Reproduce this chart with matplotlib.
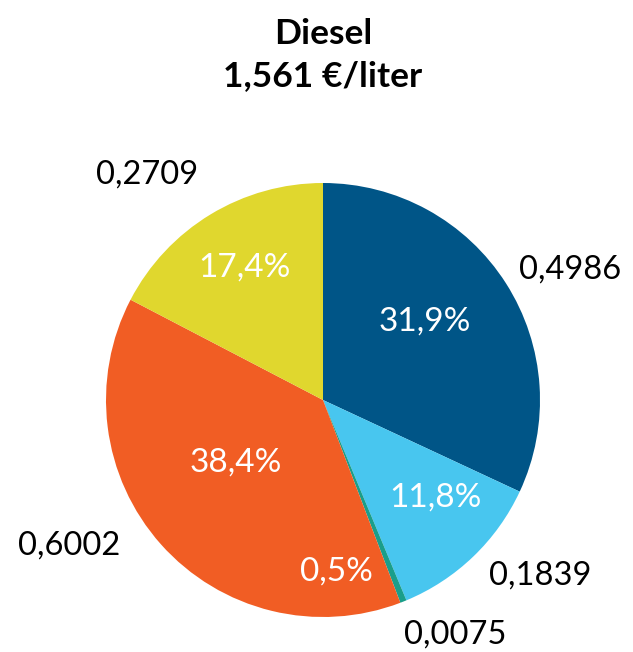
import matplotlib.pyplot as plt

plt.rcParams["font.family"] = ["Lato", "DejaVu Sans"]

# Diesel price components (EUR per liter)
values = [0.4986, 0.1839, 0.0075, 0.6002, 0.2709]
value_labels = ["0,4986", "0,1839", "0,0075", "0,6002", "0,2709"]
colors = ["#005587", "#48C6EF", "#1A9E8A", "#F15D24", "#E0D72E"]
title = "Diesel\n1,561 €/liter"

fig = plt.figure(figsize=(6.33, 6.52), dpi=100)
ax = fig.add_axes([106 / 633, 35 / 652, 434 / 633, 434 / 652])

total = sum(values)
wedges, _ = ax.pie(values, colors=colors, startangle=90, counterclock=False,
                   radius=1, wedgeprops=dict(linewidth=0))
ax.set_xlim(-1, 1)
ax.set_ylim(-1, 1)
ax.set_aspect("equal")
ax.axis("off")

# label placement (axes data units, radius = 1)
pct_pos = [(0.47, 0.36), (0.52, -0.45), (0.06, -0.79), (-0.40, -0.29), (-0.36, 0.61)]
val_pos = [(1.14, 0.60), (1.00, -0.81), (0.61, -1.08), (-1.17, -0.67), (-0.81, 1.04)]

for v, lbl, p, q in zip(values, value_labels, pct_pos, val_pos):
    pct = f"{100 * v / total:.1f}%".replace(".", ",")
    ax.text(p[0], p[1], pct, color="white", fontsize=24, ha="center", va="center")
    ax.text(q[0], q[1], lbl, color="black", fontsize=23.5, ha="center", va="center",
            clip_on=False)

fig.text(0.51, 0.915, title, ha="center", va="center", fontsize=25.5,
         fontweight="bold", linespacing=1.38)

fig.savefig("out.png", dpi=100)
